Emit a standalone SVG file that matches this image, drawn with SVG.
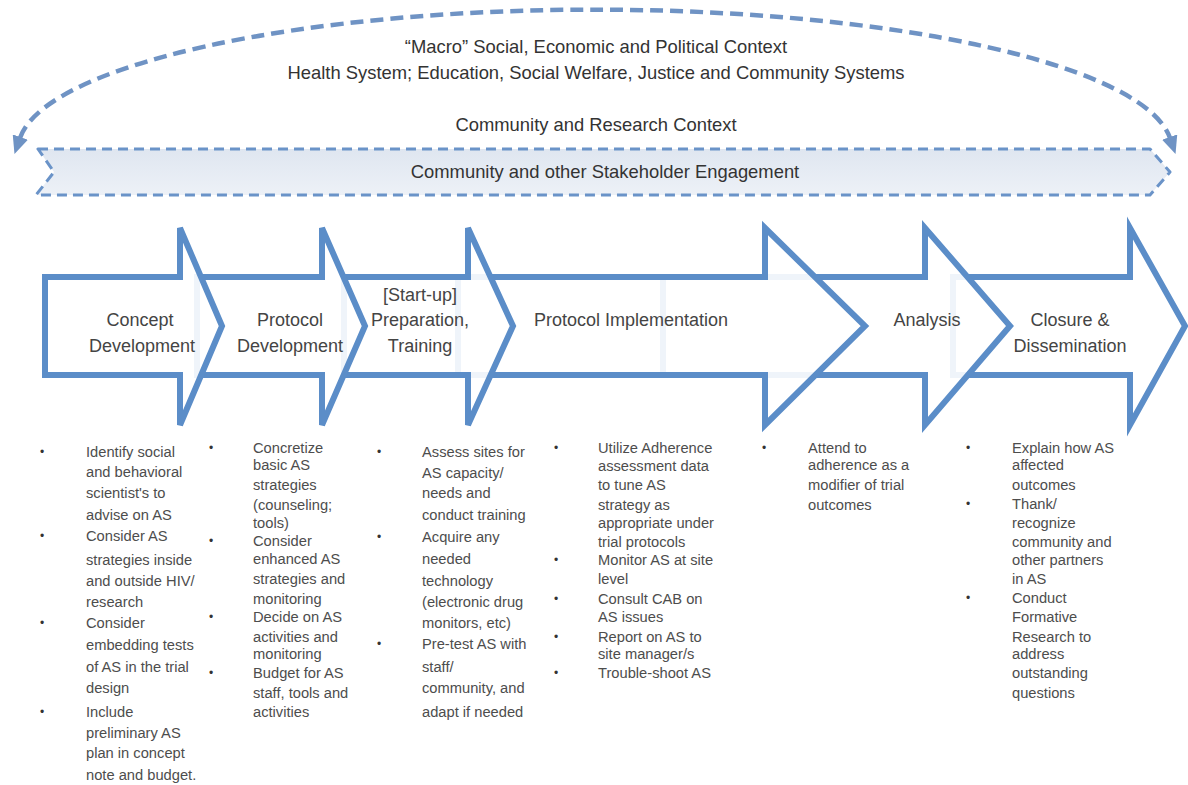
<svg xmlns="http://www.w3.org/2000/svg" width="1188" height="785" viewBox="0 0 1188 785">
<style>
.ttl{font-family:"Liberation Sans",Arial,sans-serif;font-size:18.4px;fill:#333;text-anchor:middle}
.lbl{font-family:"Liberation Sans",Arial,sans-serif;font-size:18px;fill:#444;text-anchor:middle}
.bt{font-family:"Liberation Sans",Arial,sans-serif;font-size:14.7px;fill:#4d4d4d}
.bu{font-family:"Liberation Sans",Arial,sans-serif;font-size:12px;fill:#333}
.arr{fill:#fff;fill-opacity:0.9;stroke:#5b8dc8;stroke-width:6;stroke-linejoin:miter}
.arc{fill:none;stroke:#6f93c4;stroke-width:4.5;stroke-dasharray:13 7}
.ban{fill:url(#bg);stroke:#6a93c8;stroke-width:3;stroke-dasharray:10 6;stroke-linejoin:round}
</style>
<defs>
<linearGradient id="bg" x1="0" y1="0" x2="0" y2="1">
<stop offset="0" stop-color="#dfe6f0"/>
<stop offset="1" stop-color="#edf1f7"/>
</linearGradient>
<marker id="ah" viewBox="0 0 18 16" refX="1" refY="8" markerWidth="18" markerHeight="16" markerUnits="userSpaceOnUse" orient="auto-start-reverse">
<path d="M0,0 L18,8 L0,16 z" fill="#6f93c4"/>
</marker>
</defs>

<g id="connectors">
<path class="arc" d="M 20,138 A 577 140 0 0 1 1170,138" marker-start="url(#ah)" marker-end="url(#ah)"/>
</g>

<g id="context-text">
<text class="ttl" x="596" y="53">“Macro” Social, Economic and Political Context</text>
<text class="ttl" x="596" y="79">Health System; Education, Social Welfare, Justice and Community Systems</text>
<text class="ttl" x="596" y="131">Community and Research Context</text>
</g>

<g id="engagement">
<path class="ban" d="M38,149 L1150,149 L1170,172 L1150,195 L36,195 L54,172 Z"/>
<text class="ttl" x="605" y="178">Community and other Stakeholder Engagement</text>
</g>

<g id="closure">
<polygon class="arr" points="953,277 1130,277 1130,228 1185,326 1130,425 1130,375 953,375"/>
<text class="lbl" x="1070" y="326">Closure &amp;</text>
<text class="lbl" x="1070" y="352">Dissemination</text>
</g>
<g id="analysis">
<polygon class="arr" points="663,277 925,277 925,228 1010,326 925,425 925,375 663,375"/>
<text class="lbl" x="927" y="326">Analysis</text>
</g>
<g id="implementation">
<polygon class="arr" points="458,277 765,277 765,228 865,326 765,425 765,375 458,375"/>
<text class="lbl" x="631" y="326">Protocol Implementation</text>
</g>
<g id="preparation">
<polygon class="arr" points="344,277 468,277 468,228 513,326 468,425 468,375 344,375"/>
<text class="lbl" x="420" y="301">[Start-up]</text>
<text class="lbl" x="420" y="326">Preparation,</text>
<text class="lbl" x="420" y="352">Training</text>
</g>
<g id="protocol-dev">
<polygon class="arr" points="197,277 322,277 322,228 365,326 322,425 322,375 197,375"/>
<text class="lbl" x="290" y="326">Protocol</text>
<text class="lbl" x="290" y="352">Development</text>
</g>
<g id="concept">
<polygon class="arr" points="45,277 180,277 180,228 222,326 180,425 180,375 45,375"/>
<text class="lbl" x="140" y="326">Concept</text>
<text class="lbl" x="142" y="352">Development</text>
</g>

<g id="col-concept">
<text class="bu" x="40" y="456">•</text>
<text class="bu" x="40" y="540">•</text>
<text class="bu" x="40" y="627">•</text>
<text class="bu" x="40" y="716">•</text>
<text class="bt" x="86" y="457">Identify social</text>
<text class="bt" x="86" y="477">and behavioral</text>
<text class="bt" x="86" y="498">scientist's to</text>
<text class="bt" x="86" y="520">advise on AS</text>
<text class="bt" x="86" y="541">Consider AS</text>
<text class="bt" x="86" y="565">strategies inside</text>
<text class="bt" x="86" y="586">and outside HIV/</text>
<text class="bt" x="86" y="607">research</text>
<text class="bt" x="86" y="628">Consider</text>
<text class="bt" x="86" y="650">embedding tests</text>
<text class="bt" x="86" y="672">of AS in the trial</text>
<text class="bt" x="86" y="693">design</text>
<text class="bt" x="86" y="717">Include</text>
<text class="bt" x="86" y="738">preliminary AS</text>
<text class="bt" x="86" y="758">plan in concept</text>
<text class="bt" x="86" y="780">note and budget.</text>
</g>

<g id="col-protocol">
<text class="bu" x="209" y="452">•</text>
<text class="bu" x="209" y="545">•</text>
<text class="bu" x="209" y="621">•</text>
<text class="bu" x="209" y="677">•</text>
<text class="bt" x="253" y="453">Concretize</text>
<text class="bt" x="253" y="470">basic AS</text>
<text class="bt" x="253" y="490">strategies</text>
<text class="bt" x="253" y="510">(counseling;</text>
<text class="bt" x="253" y="528">tools)</text>
<text class="bt" x="253" y="546">Consider</text>
<text class="bt" x="253" y="564">enhanced AS</text>
<text class="bt" x="253" y="584">strategies and</text>
<text class="bt" x="253" y="604">monitoring</text>
<text class="bt" x="253" y="622">Decide on AS</text>
<text class="bt" x="253" y="642">activities and</text>
<text class="bt" x="253" y="659">monitoring</text>
<text class="bt" x="253" y="678">Budget for AS</text>
<text class="bt" x="253" y="698">staff, tools and</text>
<text class="bt" x="253" y="717">activities</text>
</g>

<g id="col-preparation">
<text class="bu" x="377" y="456">•</text>
<text class="bu" x="377" y="541">•</text>
<text class="bu" x="377" y="648">•</text>
<text class="bt" x="422" y="457">Assess sites for</text>
<text class="bt" x="422" y="478">AS capacity/</text>
<text class="bt" x="422" y="498">needs and</text>
<text class="bt" x="422" y="520">conduct training</text>
<text class="bt" x="422" y="542">Acquire any</text>
<text class="bt" x="422" y="564">needed</text>
<text class="bt" x="422" y="586">technology</text>
<text class="bt" x="422" y="607">(electronic drug</text>
<text class="bt" x="422" y="628">monitors, etc)</text>
<text class="bt" x="422" y="649">Pre-test AS with</text>
<text class="bt" x="422" y="672">staff/</text>
<text class="bt" x="422" y="693">community, and</text>
<text class="bt" x="422" y="717">adapt if needed</text>
</g>

<g id="col-implementation">
<text class="bu" x="554" y="452">•</text>
<text class="bu" x="554" y="564">•</text>
<text class="bu" x="554" y="603">•</text>
<text class="bu" x="554" y="641">•</text>
<text class="bu" x="554" y="677">•</text>
<text class="bt" x="598" y="453">Utilize Adherence</text>
<text class="bt" x="598" y="471">assessment data</text>
<text class="bt" x="598" y="490">to tune AS</text>
<text class="bt" x="598" y="510">strategy as</text>
<text class="bt" x="598" y="528">appropriate under</text>
<text class="bt" x="598" y="547">trial protocols</text>
<text class="bt" x="598" y="565">Monitor AS at site</text>
<text class="bt" x="598" y="584">level</text>
<text class="bt" x="598" y="604">Consult CAB on</text>
<text class="bt" x="598" y="622">AS issues</text>
<text class="bt" x="598" y="642">Report on AS to</text>
<text class="bt" x="598" y="659">site manager/s</text>
<text class="bt" x="598" y="678">Trouble-shoot AS</text>
</g>

<g id="col-analysis">
<text class="bu" x="762" y="452">•</text>
<text class="bt" x="808" y="453">Attend to</text>
<text class="bt" x="808" y="470">adherence as a</text>
<text class="bt" x="808" y="490">modifier of trial</text>
<text class="bt" x="808" y="510">outcomes</text>
</g>

<g id="col-closure">
<text class="bu" x="966" y="452">•</text>
<text class="bu" x="966" y="508">•</text>
<text class="bu" x="966" y="602">•</text>
<text class="bt" x="1012" y="453">Explain how AS</text>
<text class="bt" x="1012" y="470">affected</text>
<text class="bt" x="1012" y="490">outcomes</text>
<text class="bt" x="1012" y="509">Thank/</text>
<text class="bt" x="1012" y="528">recognize</text>
<text class="bt" x="1012" y="547">community and</text>
<text class="bt" x="1012" y="565">other partners</text>
<text class="bt" x="1012" y="584">in AS</text>
<text class="bt" x="1012" y="603">Conduct</text>
<text class="bt" x="1012" y="622">Formative</text>
<text class="bt" x="1012" y="642">Research to</text>
<text class="bt" x="1012" y="659">address</text>
<text class="bt" x="1012" y="678">outstanding</text>
<text class="bt" x="1012" y="698">questions</text>
</g>
</svg>
